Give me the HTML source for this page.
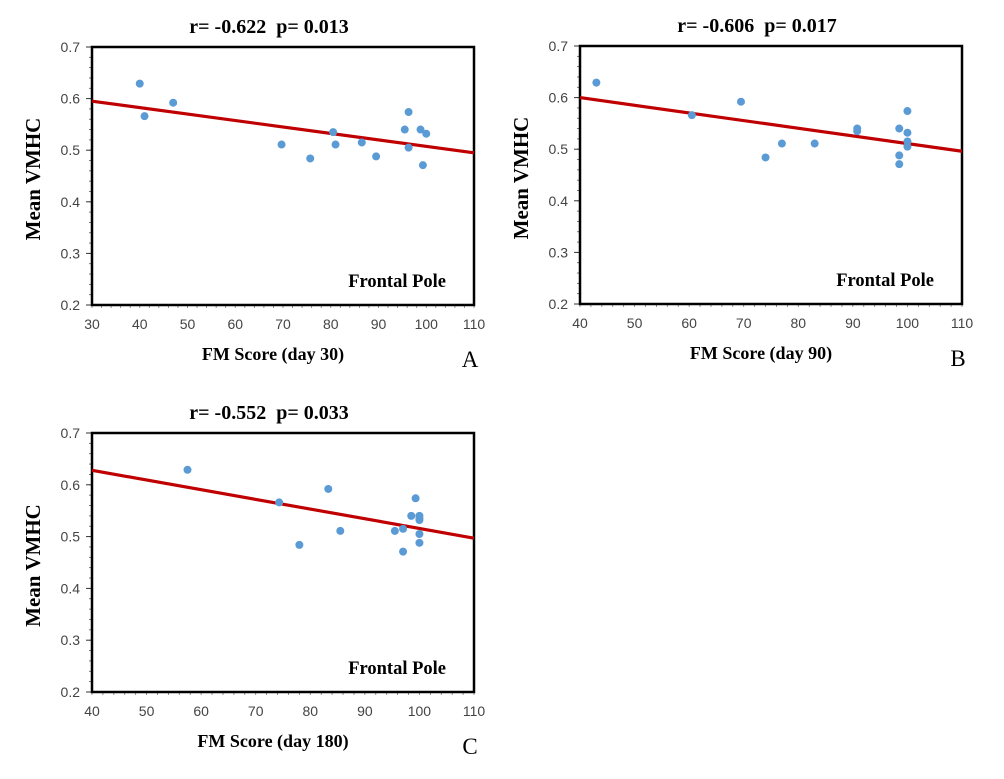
<!DOCTYPE html>
<html><head><meta charset="utf-8"><style>
body{margin:0;background:#fff;width:1004px;height:779px;overflow:hidden}
svg{display:block}
</style></head><body>
<svg id="fig" width="1004" height="779"></svg>
<script>
const aX=[40,41,47,69.7,75.7,80.5,81,86.5,89.5,95.5,96.3,96.3,98.8,99.3,100];
const aY=[0.629,0.566,0.592,0.511,0.484,0.535,0.511,0.515,0.488,0.540,0.574,0.505,0.540,0.471,0.532];
const aFit=[0.595,0.495];
const bX=[43,60.5,69.5,74,77,83,90.8,90.8,98.5,98.5,98.5,100,100,100,100];
const bY=[0.629,0.566,0.592,0.484,0.511,0.511,0.540,0.535,0.540,0.488,0.471,0.574,0.532,0.515,0.505];
const bFit=[0.600,0.496];
const cX=[57.5,74.3,78,83.3,85.5,95.5,97,97,98.5,99.3,100,100,100,100,100];
const cY=[0.629,0.566,0.484,0.592,0.511,0.511,0.515,0.471,0.540,0.574,0.540,0.535,0.532,0.505,0.488];
const cFit=[0.628,0.497];
const yTicks=[0.2,0.3,0.4,0.5,0.6,0.7];
const aXTicks=[30,40,50,60,70,80,90,100,110];
const bXTicks=[40,50,60,70,80,90,100,110];
const titles=["r= -0.622  p= 0.013","r= -0.606  p= 0.017","r= -0.552  p= 0.033"];
const xLabels=["FM Score (day 30)","FM Score (day 90)","FM Score (day 180)"];
const letters=["A","B","C"];

const NS="http://www.w3.org/2000/svg";
const svg=document.getElementById('fig');
function mk(tag,attrs,parent,text){const e=document.createElementNS(NS,tag);for(const k in attrs)e.setAttribute(k,attrs[k]);if(text!==undefined)e.textContent=text;(parent||svg).appendChild(e);return e;}

function panel(i,L,R,T,B,xs,ys,fit,xt){
  const g=mk('g',{});
  
  
  const x0=xt[0],x1=xt[xt.length-1];
  const sx=v=>L+(v-x0)/(x1-x0)*(R-L);
  const sy=v=>B-(v-0.2)/(0.5)*(B-T);
  for(let v=0.2;v<=0.7001;v+=0.02){const y=sy(v);mk('line',{x1:L-3,x2:L,y1:y,y2:y,stroke:'#555','stroke-width':0.8},g);}
  for(let v=x0;v<=x1;v+=2){const x=sx(v);mk('line',{x1:x,x2:x,y1:B,y2:B+3,stroke:'#777','stroke-width':0.8},g);}
  yTicks.forEach(v=>{const y=sy(v);
    mk('line',{x1:L-6,x2:L,y1:y,y2:y,stroke:'#333','stroke-width':1},g);
    const t=mk('text',{x:L-12,y:y+5,'text-anchor':'end','font-size':14,fill:'#444','font-family':'Liberation Sans, sans-serif'},g,v.toFixed(1));
    });
  xt.forEach(v=>{const x=sx(v);
    const t=mk('text',{x:x,y:B+24,'text-anchor':'middle','font-size':14,fill:'#444','font-family':'Liberation Sans, sans-serif'},g,String(v));
    });
  const fr=mk('rect',{x:L,y:T,width:R-L,height:B-T,fill:'none',stroke:'#000','stroke-width':2.5},g);
  
  const fl=mk('line',{x1:sx(x0),y1:sy(fit[0]),x2:sx(x1),y2:sy(fit[1]),stroke:'#c00000','stroke-width':3.2},g);
  
  xs.forEach((v,k)=>{const c=mk('circle',{cx:sx(v),cy:sy(ys[k]),r:4,fill:'#5b9bd5'},g);
    });
  const ft={'font-family':'Liberation Serif, serif','font-weight':'bold'};
  const tt=mk('text',Object.assign({x:(L+R)/2-14,y:T-14,'text-anchor':'middle','font-size':20},ft),g,titles[i]);
  tt.style.whiteSpace='pre';
  const rl=mk('text',Object.assign({x:R-28,y:B-18,'text-anchor':'end','font-size':18.5},ft),g,'Frontal Pole');
  
  const xl=mk('text',Object.assign({x:(L+R)/2-10,y:B+55,'text-anchor':'middle','font-size':18},ft),g,xLabels[i]);
  
  const yx=L-52,yy=(T+B)/2+3;
  const yl=mk('text',Object.assign({x:yx,y:yy,'text-anchor':'middle','font-size':21},ft),g,'Mean VMHC');
  yl.setAttribute('transform',`rotate(-90 ${yx} ${yy})`);
  
  const lt=mk('text',{x:R-4,y:B+62,'text-anchor':'middle','font-size':23,'font-family':'Liberation Serif, serif'},g,letters[i]);
  
}
panel(0,92,474,47,305,aX,aY,aFit,aXTicks);
panel(1,580,962,46,304,bX,bY,bFit,bXTicks);
panel(2,92,474,433,692,cX,cY,cFit,bXTicks);
</script>
</body></html>
